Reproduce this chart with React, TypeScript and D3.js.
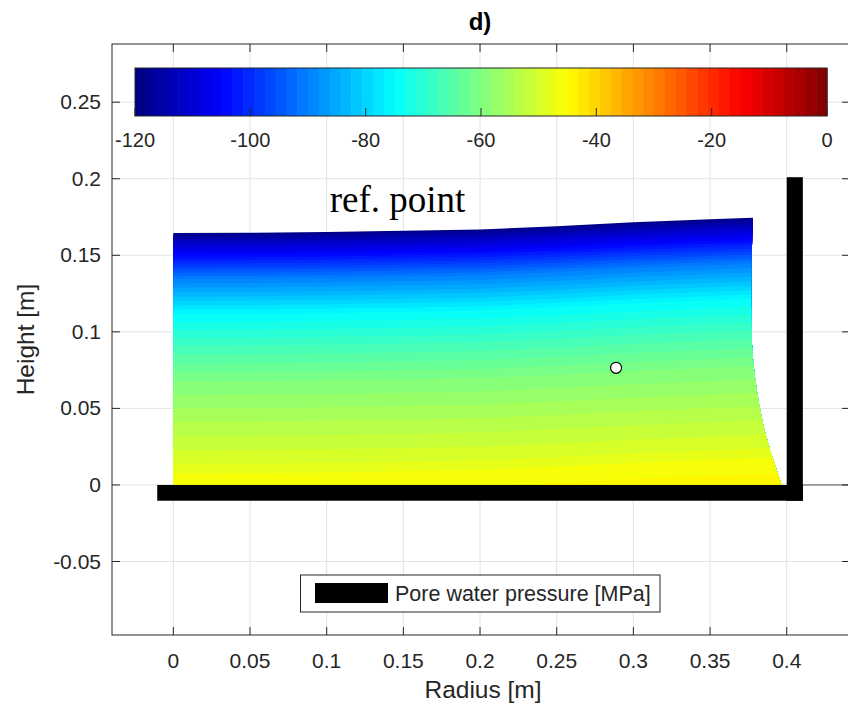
import React from 'react'
import * as d3 from 'd3'

// top surface of the sample (radius, height)
const topR = [0, 0.05, 0.1, 0.15, 0.2, 0.25, 0.3, 0.35, 0.378]
const topH = [0.1645, 0.1647, 0.1652, 0.166, 0.1668, 0.169, 0.1715, 0.1735, 0.1745]
// right free edge, from top to bottom
const edgeR = [0.378, 0.3771, 0.3768, 0.3772, 0.3782, 0.38, 0.3825, 0.3857, 0.39, 0.3967]
const edgeH = [0.1745, 0.147, 0.119, 0.095, 0.08, 0.065, 0.05, 0.035, 0.02, 0]
// pore water pressure vs depth below the top surface
const profileDepth = [0, 0.006, 0.014, 0.03, 0.053, 0.075, 0.097, 0.125, 0.15, 0.16, 0.175]
const profileP = [-119, -112, -105, -90, -75, -67, -60, -54, -49, -46, -44]

const xTicks = [0, 0.05, 0.1, 0.15, 0.2, 0.25, 0.3, 0.35, 0.4]
const yTicks = [-0.05, 0, 0.05, 0.1, 0.15, 0.2, 0.25]
const cbTicks = [-120, -100, -80, -60, -40, -20, 0]
const refPoint = { r: 0.2887, h: 0.0765 }

const W = 848
const H = 711
const box = { left: 112, right: 848, top: 44, bottom: 635 }
const font = '"Liberation Sans", Arial, Helvetica, sans-serif'
const axisColor = '#262626'
const nColors = 64

// matlab jet
function jet(t: number) {
	const c = (v: number) => Math.round(255 * Math.max(0, Math.min(1, v)))
	return `rgb(${c(1.5 - Math.abs(4 * t - 3))},${c(1.5 - Math.abs(4 * t - 2))},${c(1.5 - Math.abs(4 * t - 1))})`
}
const jetColors = d3.range(nColors).map(i => jet((i + 0.5) / nColors))
const fmt = (v: number) => d3.format('~g')(v).replace('\u2212', '-')

export default function App() {
	const x = d3.scaleLinear().domain([-0.04, 0.44]).range([box.left, box.left + 0.48 * 1533.5])
	const y = d3.scaleLinear().domain([-0.098, 0.288]).range([box.bottom, box.top])

	const topLine = d3.scaleLinear().domain(topR).range(topH)
	const depthOf = d3.scaleLinear().domain(profileP).range(profileDepth).clamp(true)

	// domain outline: left + top edge straight, right edge smooth
	const upper: [number, number][] = [[0, 0], ...topR.map((r, i) => [r, topH[i]] as [number, number])]
	const edge: [number, number][] = edgeR.map((r, i) => [r, edgeH[i]] as [number, number])
	const upperPath = d3.line<[number, number]>().x(d => x(d[0])).y(d => y(d[1]))(upper)
	const edgePath = d3
		.line<[number, number]>()
		.x(d => x(d[0]))
		.y(d => y(d[1]))
		.curve(d3.curveMonotoneY)(edge)!
	const outlinePath = upperPath + 'L' + edgePath.slice(1) + 'Z'

	// colour bands (64 level jet over -120..0)
	const rs = d3.range(-0.01, 0.42, 0.01)
	const bands = d3
		.range(nColors)
		.map(k => {
			const pLow = -120 + (k * 120) / nColors
			const d0 = k === 0 ? 0 : depthOf(pLow)
			const pts: [number, number][] = [
				...rs.map(r => [r, topLine(r) - d0 + (k === 0 ? 0.01 : 0)] as [number, number]),
				[0.42, -0.05],
				[-0.01, -0.05],
			]
			return { color: jetColors[k], path: d3.line<[number, number]>().x(p => x(p[0])).y(p => y(p[1]))(pts) + 'Z', pLow }
		})
		.filter(b => b.pLow < d3.max(profileP)!)

	const cb = { left: 135, right: 827, top: 68, bottom: 116 }
	const cbX = d3.scaleLinear().domain([-120, 0]).range([cb.left, cb.right])
	const cbStep = (cb.right - cb.left) / nColors

	return (
		<svg width={W} height={H} style={{ position: 'absolute', left: 0, top: 0, background: '#fff' }} fontFamily={font}>
			<defs>
				<clipPath id="dom">
					<path d={outlinePath} />
				</clipPath>
				<clipPath id="axes">
					<rect x={box.left} y={box.top} width={box.right - box.left} height={box.bottom - box.top} />
				</clipPath>
			</defs>
			<rect x={0} y={0} width={W} height={H} fill="#fff" />

			{/* grid */}
			<g stroke="#e3e3e3" strokeWidth={1}>
				{xTicks.map(t => <line key={'gx' + t} x1={x(t)} x2={x(t)} y1={box.top} y2={box.bottom} />)}
				{yTicks.map(t => <line key={'gy' + t} x1={box.left} x2={box.right} y1={y(t)} y2={y(t)} />)}
			</g>

			{/* pressure field */}
			<g clipPath="url(#dom)">
				{bands.map((b, i) => <path key={i} d={b.path} fill={b.color} />)}
			</g>

			{/* boundaries */}
			<g clipPath="url(#axes)">
				<line x1={x(0.41)} x2={box.right} y1={y(0)} y2={y(0)} stroke="#555" strokeWidth={1} />
				<rect x={x(-0.0105)} y={y(0)} width={x(0.4105) - x(-0.0105)} height={y(-0.0103) - y(0)} fill="#000" />
				<rect x={x(0.4)} y={y(0.201)} width={x(0.4105) - x(0.4)} height={y(-0.0103) - y(0.201)} fill="#000" />
			</g>

			{/* reference point */}
			<circle cx={x(refPoint.r)} cy={y(refPoint.h)} r={5.5} fill="#fff" stroke="#000" strokeWidth={1.2} />
			<text x={x(0.102)} y={y(0.1785)} fontFamily='"Liberation Serif", "Times New Roman", serif' fontSize={37} fill="#000">
				ref. point
			</text>

			{/* colorbar */}
			<g>
				{jetColors.map((c, i) => (
					<rect key={i} x={cb.left + i * cbStep} y={cb.top} width={cbStep + 0.6} height={cb.bottom - cb.top} fill={c} />
				))}
				<rect x={cb.left} y={cb.top} width={cb.right - cb.left} height={cb.bottom - cb.top} fill="none" stroke={axisColor} strokeWidth={1} />
				{cbTicks.map(t => (
					<g key={'cb' + t}>
						<line x1={cbX(t)} x2={cbX(t)} y1={cb.bottom} y2={cb.bottom - 8} stroke={axisColor} />
						<text x={cbX(t)} y={cb.bottom + 31} textAnchor="middle" fontSize={20} fill={axisColor}>
							{t}
						</text>
					</g>
				))}
			</g>

			{/* axes box and ticks */}
			<rect x={box.left} y={box.top} width={box.right - box.left + 4} height={box.bottom - box.top} fill="none" stroke={axisColor} strokeWidth={1} />
			<g stroke={axisColor}>
				{xTicks.map(t => (
					<g key={'tx' + t}>
						<line x1={x(t)} x2={x(t)} y1={box.bottom} y2={box.bottom - 8} />
						<line x1={x(t)} x2={x(t)} y1={box.top} y2={box.top + 8} />
					</g>
				))}
				{yTicks.map(t => (
					<g key={'ty' + t}>
						<line x1={box.left} x2={box.left + 8} y1={y(t)} y2={y(t)} />
						<line x1={box.right - 6} x2={box.right + 2} y1={y(t)} y2={y(t)} />
					</g>
				))}
			</g>
			<g fontSize={21} fill={axisColor}>
				{xTicks.map(t => (
					<text key={'lx' + t} x={x(t)} y={box.bottom + 33} textAnchor="middle">
						{fmt(t)}
					</text>
				))}
				{yTicks.map(t => (
					<text key={'ly' + t} x={box.left - 11} y={y(t) + 7} textAnchor="end">
						{fmt(t)}
					</text>
				))}
			</g>

			{/* legend */}
			<g>
				<rect x={300.5} y={575} width={359.5} height={37} fill="#fff" stroke={axisColor} strokeWidth={1} />
				<rect x={315} y={583} width={73} height={20} fill="#000" />
				<text x={395} y={601} fontSize={21.5} fill={axisColor}>
					Pore water pressure [MPa]
				</text>
			</g>

			{/* labels */}
			<text x={(box.left + box.right) / 2 + 3} y={698} textAnchor="middle" fontSize={24.5} fill={axisColor}>
				Radius [m]
			</text>
			<text transform={`translate(34,${(box.top + box.bottom) / 2}) rotate(-90)`} textAnchor="middle" fontSize={24.5} fill={axisColor}>
				Height [m]
			</text>
			<text x={480} y={30} textAnchor="middle" fontSize={24} fontWeight="bold" fill="#000">
				d)
			</text>
		</svg>
	)
}
